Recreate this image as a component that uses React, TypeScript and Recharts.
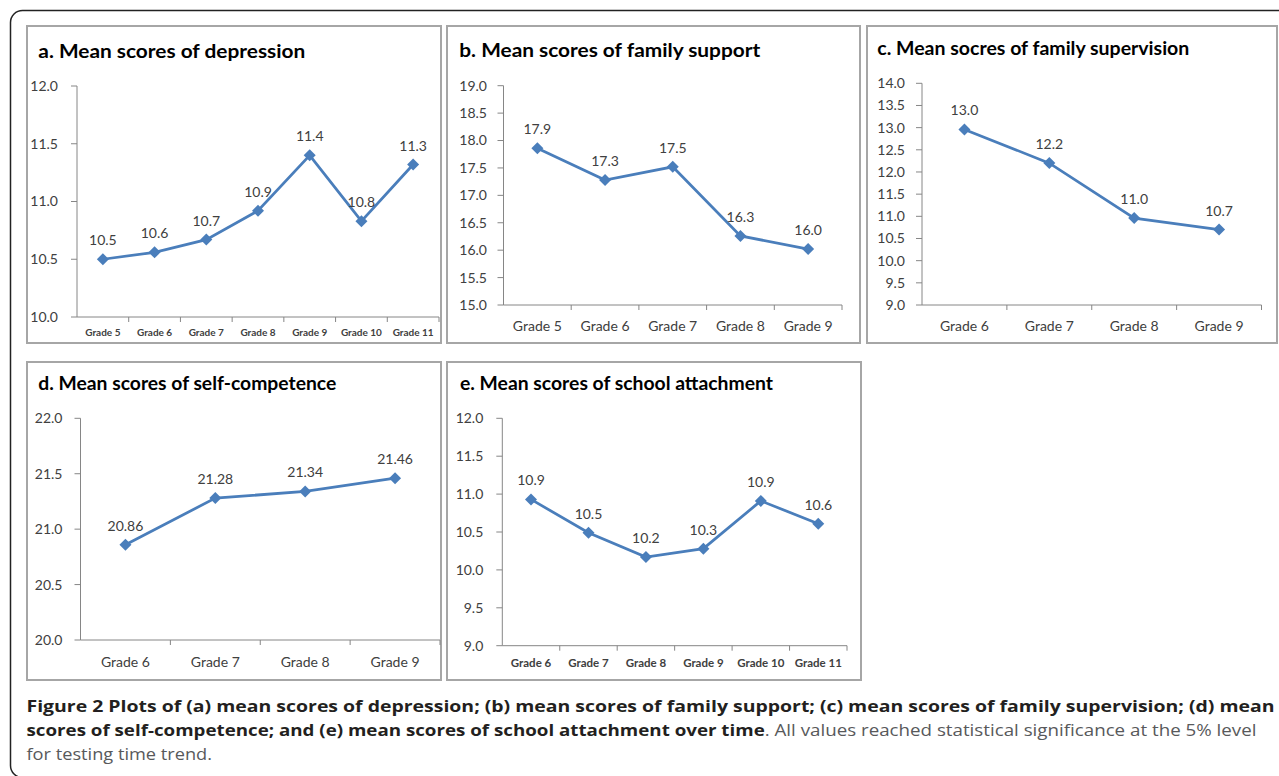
import { LineChart, Line, XAxis, YAxis, LabelList } from "recharts"

// a. depression
const depressionGrades = ["Grade 5", "Grade 6", "Grade 7", "Grade 8", "Grade 9", "Grade 10", "Grade 11"]
const depressionScores = [10.5, 10.56, 10.67, 10.92, 11.4, 10.83, 11.32]
const depressionTicks = [10.0, 10.5, 11.0, 11.5, 12.0]

// b. family support
const supportGrades = ["Grade 5", "Grade 6", "Grade 7", "Grade 8", "Grade 9"]
const supportScores = [17.86, 17.28, 17.52, 16.26, 16.02]
const supportTicks = [15.0, 15.5, 16.0, 16.5, 17.0, 17.5, 18.0, 18.5, 19.0]

// c. family supervision
const supervisionGrades = ["Grade 6", "Grade 7", "Grade 8", "Grade 9"]
const supervisionScores = [12.96, 12.2, 10.96, 10.7]
const supervisionTicks = [9.0, 9.5, 10.0, 10.5, 11.0, 11.5, 12.0, 12.5, 13.0, 13.5, 14.0]

// d. self-competence
const competenceGrades = ["Grade 6", "Grade 7", "Grade 8", "Grade 9"]
const competenceScores = [20.86, 21.28, 21.34, 21.46]
const competenceTicks = [20.0, 20.5, 21.0, 21.5, 22.0]

// e. school attachment
const attachmentGrades = ["Grade 6", "Grade 7", "Grade 8", "Grade 9", "Grade 10", "Grade 11"]
const attachmentScores = [10.93, 10.49, 10.17, 10.28, 10.91, 10.61]
const attachmentTicks = [9.0, 9.5, 10.0, 10.5, 11.0, 11.5, 12.0]

const BLUE = "#4A7EBB"
const AXIS = "#868686"
const TEXT = "#404040"

const Diamond = (props: any) => {
  const { cx, cy } = props
  if (cx == null || cy == null) return null
  const r = 6
  return <path d={`M${cx},${cy - r}L${cx + r},${cy}L${cx},${cy + r}L${cx - r},${cy}Z`} fill={BLUE} />
}

type PanelProps = {
  left: number
  top: number
  width: number
  height: number
  grades: string[]
  scores: number[]
  ticks: number[]
  yWidth: number
  marginTop: number
  marginRight: number
  xHeight: number
  tickMargin: number
  xFont: number
  xBold: boolean
  xGap: number
  digits: number
}

function Panel(p: PanelProps) {
  const data = p.grades.map((grade, i) => ({ grade, score: p.scores[i] }))
  const plotWidth = p.width - p.yWidth - p.marginRight
  const bw = plotWidth / p.grades.length

  // Excel style: tick marks between categories, labels centred
  const XTick = (props: any) => {
    const { x, y, payload } = props
    return (
      <g>
        <line x1={x + bw / 2} x2={x + bw / 2} y1={y} y2={y + 5} stroke={AXIS} />
        <text
          x={x}
          y={y + p.xGap}
          textAnchor="middle"
          dominantBaseline="central"
          fontSize={p.xFont}
          fontWeight={p.xBold ? "bold" : "normal"}
          fill={TEXT}
        >
          {payload.value}
        </text>
      </g>
    )
  }

  return (
    <div style={{ position: "absolute", left: p.left, top: p.top }}>
      <LineChart
        width={p.width}
        height={p.height}
        data={data}
        margin={{ top: p.marginTop, right: p.marginRight, bottom: 0, left: 0 }}
      >
        <XAxis
          dataKey="grade"
          height={p.xHeight}
          interval={0}
          padding={{ left: bw / 2, right: bw / 2 }}
          tickLine={false}
          tickSize={0}
          tickMargin={0}
          axisLine={{ stroke: AXIS }}
          tick={<XTick />}
        />
        <YAxis
          type="number"
          domain={[p.ticks[0], p.ticks[p.ticks.length - 1]]}
          ticks={p.ticks}
          interval={0}
          width={p.yWidth}
          tickSize={6}
          tickMargin={p.tickMargin}
          tickFormatter={(v: number) => v.toFixed(1)}
          tick={{ fill: TEXT, fontSize: 14 }}
          tickLine={{ stroke: AXIS }}
          axisLine={{ stroke: AXIS }}
        />
        <Line
          dataKey="score"
          stroke={BLUE}
          strokeWidth={2.75}
          dot={<Diamond />}
          activeDot={false}
          isAnimationActive={false}
        >
          <LabelList
            dataKey="score"
            position="top"
            offset={14}
            fill={TEXT}
            fontSize={14}
            formatter={(v: any) => Number(v).toFixed(p.digits)}
          />
        </Line>
      </LineChart>
    </div>
  )
}

const panels: PanelProps[] = [
  { left: 27, top: 26, width: 414, height: 317, grades: depressionGrades, scores: depressionScores, ticks: depressionTicks, yWidth: 50, marginTop: 60, marginRight: 2, xHeight: 26, tickMargin: 13, xFont: 10, xBold: true, xGap: 14.7, digits: 1 },
  { left: 447, top: 26, width: 413, height: 317, grades: supportGrades, scores: supportScores, ticks: supportTicks, yWidth: 56.5, marginTop: 59.7, marginRight: 18, xHeight: 38, tickMargin: 10.5, xFont: 14, xBold: false, xGap: 20.7, digits: 1 },
  { left: 867, top: 26, width: 410, height: 317, grades: supervisionGrades, scores: supervisionScores, ticks: supervisionTicks, yWidth: 55, marginTop: 57.3, marginRight: 15.5, xHeight: 38, tickMargin: 11, xFont: 14, xBold: false, xGap: 20.7, digits: 1 },
  { left: 27, top: 362, width: 414, height: 318, grades: competenceGrades, scores: competenceScores, ticks: competenceTicks, yWidth: 53.5, marginTop: 56.3, marginRight: 1, xHeight: 40, tickMargin: 12, xFont: 14, xBold: false, xGap: 21, digits: 2 },
  { left: 447, top: 362, width: 414, height: 318, grades: attachmentGrades, scores: attachmentScores, ticks: attachmentTicks, yWidth: 55.3, marginTop: 56.3, marginRight: 14, xHeight: 34.3, tickMargin: 13, xFont: 11.5, xBold: true, xGap: 17, digits: 1 },
]

const titles = [
  { text: "a. Mean scores of depression", x: 38.3, y: 58.3, w: 267 },
  { text: "b. Mean scores of family support", x: 459.3, y: 56.7, w: 301 },
  { text: "c. Mean socres of family supervision", x: 877.3, y: 55, w: 312 },
  { text: "d. Mean scores of self-competence", x: 38.3, y: 390, w: 298 },
  { text: "e. Mean scores of school attachment", x: 460, y: 390, w: 313 },
]

export default function App() {
  return (
    <div
      style={{
        position: "absolute",
        left: 0,
        top: 0,
        width: 1279,
        height: 776,
        overflow: "hidden",
        background: "#fff",
        fontFamily: "Lato",
      }}
    >
      <svg width={1279} height={776} style={{ position: "absolute", left: 0, top: 0 }}>
        <rect x={10.5} y={10.5} width={1310} height={767} rx={12} fill="none" stroke="#222" strokeWidth={1.5} />
        {panels.map((p, i) => (
          <rect key={i} x={p.left} y={p.top} width={p.width} height={p.height} fill="#fff" stroke="#a6a6a6" strokeWidth={2} />
        ))}
        {titles.map((t, i) => (
          <text key={i} x={t.x} y={t.y} fontSize={19.5} fontWeight="bold" fill="#000" textLength={t.w} lengthAdjust="spacingAndGlyphs">
            {t.text}
          </text>
        ))}
        <g fontFamily="Open Sans" fontSize={16.5}>
          <text x={26.5} y={712} fontWeight="bold" fill="#231f20" textLength={1248} lengthAdjust="spacingAndGlyphs">
            Figure 2 Plots of (a) mean scores of depression; (b) mean scores of family support; (c) mean scores of family supervision; (d) mean
          </text>
          <text x={26.5} y={736} textLength={1230} lengthAdjust="spacingAndGlyphs">
            <tspan fontWeight="bold" fill="#231f20">scores of self-competence; and (e) mean scores of school attachment over time</tspan>
            <tspan fill="#58595b">. All values reached statistical significance at the 5% level</tspan>
          </text>
          <text x={26.5} y={760} fill="#58595b" textLength={185.5} lengthAdjust="spacingAndGlyphs">
            for testing time trend.
          </text>
        </g>
      </svg>
      {panels.map((p, i) => (
        <Panel key={i} {...p} />
      ))}
    </div>
  )
}
